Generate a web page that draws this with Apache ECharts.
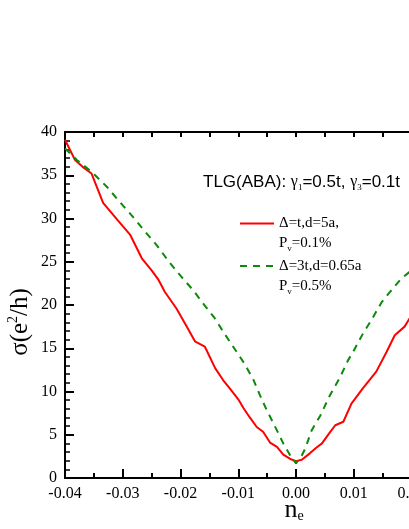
<!DOCTYPE html>
<html>
<head>
<meta charset="utf-8">
<script src="https://cdn.jsdelivr.net/npm/echarts@6/dist/echarts.min.js"></script>
<style>
  html, body { margin: 0; padding: 0; background: #fff; }
  #chart { width: 409px; height: 529px; }
</style>
</head>
<body>
<div id="chart"></div>
<script>
// Δ=t, d=5a, Pv=0.1%  (red, solid)
var redX = [-0.0400, -0.0383, -0.0370, -0.0354, -0.0334, -0.0310, -0.0287, -0.0267, -0.0250, -0.0238,
  -0.0227, -0.0207, -0.0190, -0.0175, -0.0158, -0.0140, -0.0126, -0.0114, -0.0100, -0.0091,
  -0.0080, -0.0068, -0.0057, -0.0045, -0.0033, -0.0022, -0.0010, 0.0000, 0.0010, 0.0024,
  0.0035, 0.0045, 0.0059, 0.0068, 0.0082, 0.0096, 0.0116, 0.0139, 0.0157, 0.0171, 0.0188, 0.0200]
var redY = [39.1, 36.8, 36.0, 35.2, 31.8, 29.9, 28.1, 25.4, 24.0, 22.9,
  21.5, 19.6, 17.6, 15.8, 15.2, 12.7, 11.3, 10.3, 9.1, 8.1,
  7.0, 5.9, 5.35, 4.1, 3.6, 2.7, 2.2, 1.95, 2.1, 2.85,
  3.5, 4.0, 5.3, 6.1, 6.5, 8.6, 10.4, 12.3, 14.6, 16.5, 17.5, 18.8]

// Δ=3t, d=0.65a, Pv=0.5%  (green, dashed)
var greenX = [-0.0400, -0.0380, -0.0354, -0.0328, -0.0305, -0.0285, -0.0264, -0.0241, -0.0220, -0.0199,
  -0.0178, -0.0161, -0.0141, -0.0124, -0.0107, -0.0090, -0.0074, -0.0060, -0.0051, -0.0042,
  -0.0033, -0.0022, -0.0010, 0.0000, 0.0010, 0.0016, 0.0027, 0.0042, 0.0059, 0.0076,
  0.0090, 0.0099, 0.0116, 0.0131, 0.0148, 0.0165, 0.0183, 0.0200]
var greenY = [38.1, 36.8, 35.4, 33.7, 31.9, 30.4, 28.7, 26.9, 25.0, 23.3,
  21.7, 20.2, 18.5, 16.7, 15.0, 13.3, 11.4, 9.2, 7.9, 6.7,
  5.5, 4.0, 2.6, 1.7, 2.6, 3.4, 5.5, 7.2, 9.6, 11.6,
  13.6, 14.6, 16.7, 18.3, 20.3, 21.7, 23.1, 24.0]

var seriesNames = ['red', 'green']
var xMin = -0.04, xMax = 0.02, xStep = 0.01
var yMin = 0, yMax = 40, yStep = 5

function pairs(xs, ys) {
  return xs.map(function (x, i) { return [x, ys[i]] })
}

var serif = 'Liberation Serif'
var sans = 'Liberation Sans'

var myChart = echarts.init(document.getElementById('chart'))

var option = {
  backgroundColor: '#fff',
  animation: false,
  title: {
    left: 203,
    top: 172,
    padding: 0,
    text: '{a|TLG(ABA): }{g|γ}{s|1}{a|=0.5t, }{g|γ}{s|3}{a|=0.1t}',
    textStyle: {
      fontWeight: 'normal',
      rich: {
        a: { fontFamily: sans, fontSize: 17, fontWeight: 'normal', color: '#000', lineHeight: 20 },
        g: { fontFamily: serif, fontSize: 16, fontWeight: 'normal', color: '#000', lineHeight: 20 },
        s: { fontFamily: serif, fontSize: 9, fontWeight: 'normal', color: '#000', lineHeight: 10, verticalAlign: 'bottom' }
      }
    }
  },
  legend: {
    orient: 'vertical',
    left: 239,
    top: 216,
    padding: 0,
    itemWidth: 34,
    itemHeight: 10,
    itemGap: 5,
    data: seriesNames,
    itemStyle: { opacity: 0 },
    formatter: function (name) {
      if (name === 'red') return '{m|Δ=t,d=5a,}\n{m|P}{s|v}{m|=0.1%}'
      return '{m|Δ=3t,d=0.65a}\n{m|P}{s|v}{m|=0.5%}'
    },
    textStyle: {
      padding: [20, 0, 0, 0],
      rich: {
        m: { fontFamily: serif, fontSize: 15, color: '#000', lineHeight: 20 },
        s: { fontFamily: serif, fontSize: 9, color: '#000', lineHeight: 10, verticalAlign: 'bottom' }
      }
    }
  },
  grid: {
    left: 65,
    top: 132,
    right: -2.5,
    bottom: 51,
    outerBoundsMode: 'none',
    containLabel: false
  },
  xAxis: [
    {
      type: 'value',
      min: xMin,
      max: xMax,
      interval: xStep,
      position: 'bottom',
      splitLine: { show: false },
      axisLine: { onZero: false, lineStyle: { color: '#000', width: 2 } },
      axisTick: { inside: true, length: 9, lineStyle: { color: '#000', width: 2 } },
      minorTick: { show: true, splitNumber: 2, length: 5, lineStyle: { color: '#000', width: 2 } },
      axisLabel: {
        margin: 8,
        showMaxLabel: true,
        fontFamily: serif,
        fontSize: 16,
        color: '#000',
        formatter: function (v) { return v.toFixed(2) }
      }
    },
    {
      type: 'value',
      min: xMin,
      max: xMax,
      interval: xStep / 2,
      position: 'top',
      splitLine: { show: false },
      axisLine: { onZero: false, lineStyle: { color: '#000', width: 2 } },
      axisTick: { inside: true, length: 5, lineStyle: { color: '#000', width: 2 } },
      axisLabel: { show: false }
    }
  ],
  yAxis: {
    type: 'value',
    min: yMin,
    max: yMax,
    interval: yStep,
    splitLine: { show: false },
    axisLine: { show: true, onZero: false, lineStyle: { color: '#000', width: 2 } },
    axisTick: { show: true, inside: true, length: 9, lineStyle: { color: '#000', width: 2 } },
    minorTick: { show: true, splitNumber: 5, length: 5, lineStyle: { color: '#000', width: 1.5 } },
    axisLabel: {
      margin: 8,
      fontFamily: serif,
      fontSize: 16,
      color: '#000'
    }
  },
  graphic: [
    {
      type: 'text',
      x: 20,
      y: 322,
      rotation: Math.PI / 2,
      style: {
        text: '{m|σ(e}{p|2}{m|/h)}',
        align: 'center',
        verticalAlign: 'middle',
        rich: {
          m: { fontFamily: serif, fontSize: 25, color: '#000', lineHeight: 28 },
          p: { fontFamily: serif, fontSize: 14, color: '#000', lineHeight: 14, verticalAlign: 'top' }
        }
      }
    },
    {
      type: 'text',
      x: 294,
      y: 510,
      style: {
        text: '{m|n}{s|e}',
        align: 'center',
        verticalAlign: 'middle',
        rich: {
          m: { fontFamily: serif, fontSize: 26, color: '#000', lineHeight: 26 },
          s: { fontFamily: serif, fontSize: 14, color: '#000', lineHeight: 14, verticalAlign: 'bottom' }
        }
      }
    }
  ],
  series: [
    {
      name: 'red',
      type: 'line',
      data: pairs(redX, redY),
      symbol: 'none',
      lineStyle: { color: '#ff0000', width: 2 },
      itemStyle: { color: '#ff0000' }
    },
    {
      name: 'green',
      type: 'line',
      data: pairs(greenX, greenY),
      symbol: 'none',
      lineStyle: { color: '#0b8a0b', width: 2, type: [7, 6] },
      itemStyle: { color: '#0b8a0b' }
    }
  ]
}

myChart.setOption(option)
</script>
</body>
</html>
